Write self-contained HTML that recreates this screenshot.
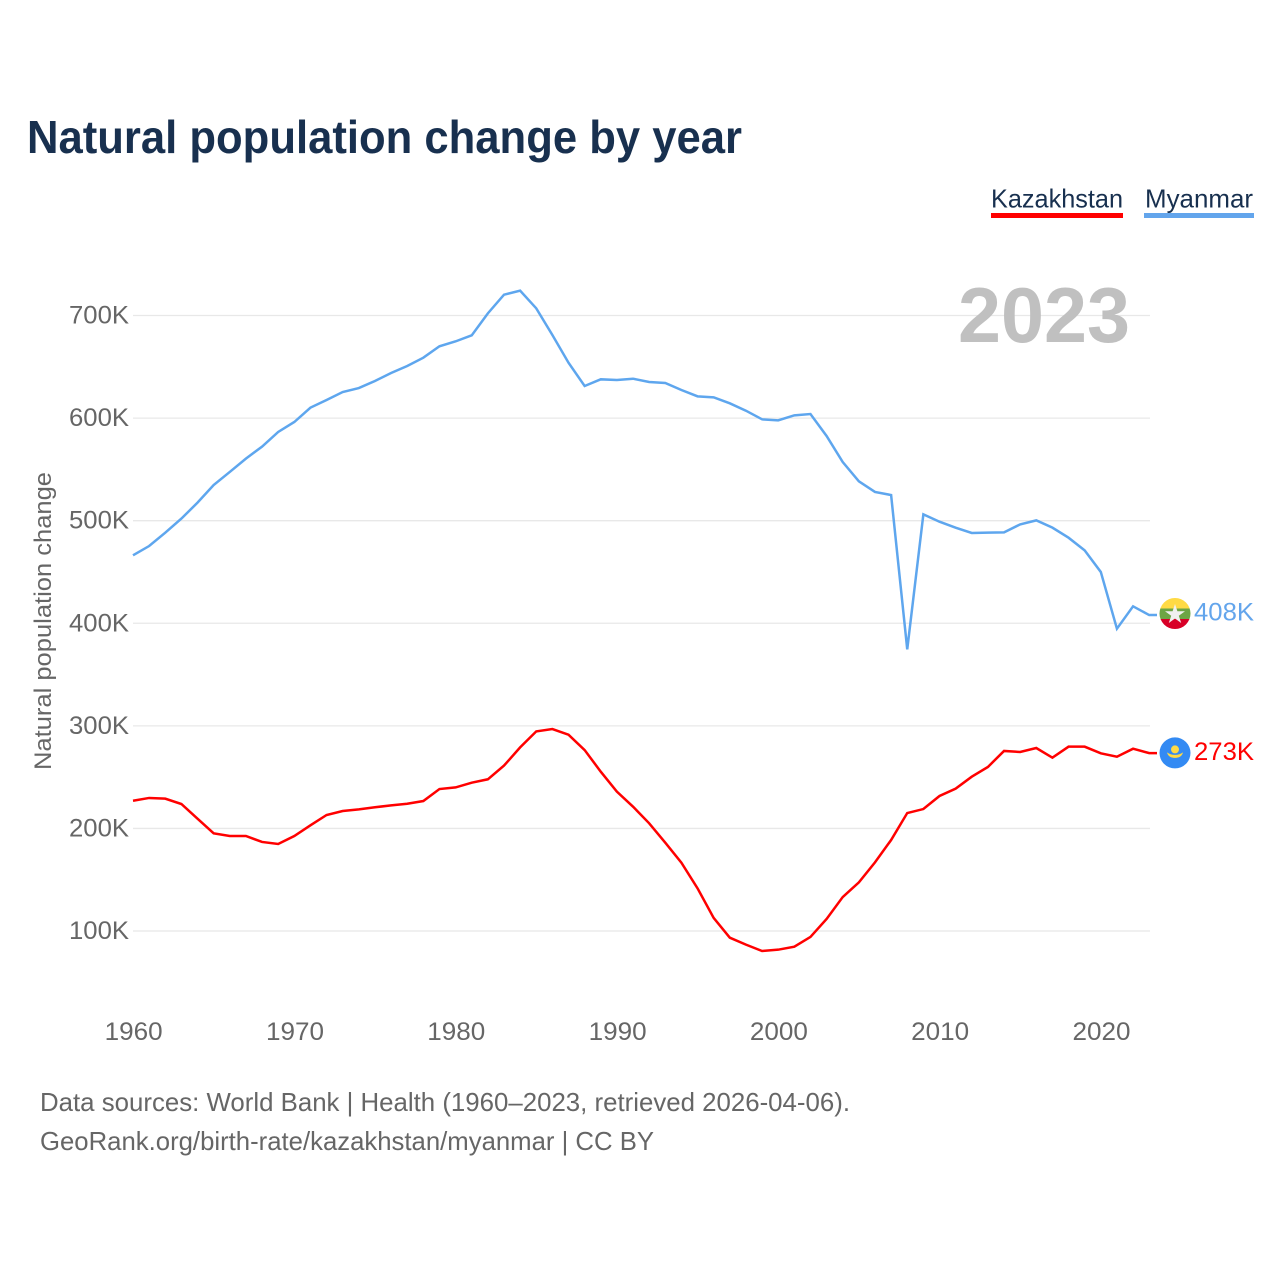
<!DOCTYPE html>
<html lang="en">
<head>
<meta charset="utf-8">
<title>Natural population change by year</title>
<style>
html,body{margin:0;padding:0;background:#fff;}
svg{display:block;font-family:"Liberation Sans",sans-serif;}
</style>
</head>
<body>
<svg id="chart" width="1280" height="1280" viewBox="0 0 1280 1280" xmlns="http://www.w3.org/2000/svg">
  <defs>
    <clipPath id="mm-clip"><circle id="mm-clip-c" cx="1175" cy="613.5" r="15.5"/></clipPath>
  </defs>
  <text x="27" y="153" font-size="46" font-weight="700" fill="#18304f" textLength="715" lengthAdjust="spacingAndGlyphs">Natural population change by year</text>

  <g>
    <text x="991" y="207.5" font-size="26" fill="#18304f" textLength="132" lengthAdjust="spacingAndGlyphs">Kazakhstan</text>
    <rect x="991" y="213" width="132" height="5" fill="#ff0000"/>
  </g>
  <g>
    <text x="1145" y="207.5" font-size="26" fill="#18304f" textLength="108" lengthAdjust="spacingAndGlyphs">Myanmar</text>
    <rect x="1144" y="213" width="110" height="5" fill="#63a5ec"/>
  </g>

  <g id="grid"></g>
  <g id="yticks"></g>
  <g id="xticks"></g>

  <text transform="translate(51,770) rotate(-90)" font-size="24" fill="#666666" textLength="298" lengthAdjust="spacingAndGlyphs">Natural population change</text>
  <text x="958" y="342" font-size="78" font-weight="700" fill="#c0c0c0" textLength="172" lengthAdjust="spacingAndGlyphs">2023</text>

  <g id="series"></g>

  <g id="flag-mm">
    <g clip-path="url(#mm-clip)">
      <rect x="1159" y="597" width="32" height="12" fill="#ffda44"/>
      <rect x="1159" y="608.5" width="32" height="11" fill="#6da544"/>
      <rect x="1159" y="619" width="32" height="12" fill="#d80027"/>
      <polygon points="1175,604 1177.4,611.3 1185,611.3 1178.8,615.7 1181.2,623 1175,618.5 1168.8,623 1171.2,615.7 1165,611.3 1172.6,611.3" fill="#f0f0f0"/>
    </g>
  </g>
  <g id="flag-kz">
    <circle cx="1175" cy="753" r="15.5" fill="#338af3"/>
    <circle cx="1175" cy="749.5" r="4" fill="#ffda44"/>
    <path d="M1167 752.5 C1169 754 1172 755 1175 755 C1178 755 1181 754 1183 752.5 C1182 757 1178 758 1175 758 C1172 758 1168 757 1167 752.5 Z" fill="#ffda44"/>
  </g>
  <text id="label-mm" x="1194" y="621" font-size="25" fill="#63a5ec" textLength="60" lengthAdjust="spacingAndGlyphs"></text>
  <text id="label-kz" x="1194" y="760" font-size="25" fill="#ff0000" textLength="60" lengthAdjust="spacingAndGlyphs"></text>

  <text x="40" y="1111" font-size="26" fill="#666666" textLength="810" lengthAdjust="spacingAndGlyphs">Data sources: World Bank | Health (1960–2023, retrieved 2026-04-06).</text>
  <text x="40" y="1150" font-size="26" fill="#666666" textLength="614" lengthAdjust="spacingAndGlyphs">GeoRank.org/birth-rate/kazakhstan/myanmar | CC BY</text>
</svg>
<script>
const years = [1960,1961,1962,1963,1964,1965,1966,1967,1968,1969,1970,1971,1972,1973,1974,1975,1976,1977,1978,1979,1980,1981,1982,1983,1984,1985,1986,1987,1988,1989,1990,1991,1992,1993,1994,1995,1996,1997,1998,1999,2000,2001,2002,2003,2004,2005,2006,2007,2008,2009,2010,2011,2012,2013,2014,2015,2016,2017,2018,2019,2020,2021,2022,2023];
const myanmar = [466.2,475.3,488.3,502,517.6,534.8,547.5,560.5,572.2,586.5,596.2,610.2,617.6,625.4,629.3,636.2,644,650.8,658.9,670,674.8,680.7,702.1,720.3,724.2,707,681,654,631.3,637.8,637.1,638.4,635.2,634.2,627.4,621.2,620.2,614.4,607.2,598.8,597.8,602.7,604,582.6,557.2,538.4,528,525,374.6,506.2,499,493.2,488,488.3,488.6,496.4,500.3,493.2,483.4,471.1,450,394.7,416.5,408];
const kazakhstan = [227,229.7,229,223.8,209.5,195.2,192.6,192.6,186.8,184.8,192.6,203,213.1,217,218.6,220.6,222.5,224.1,226.7,238.4,240,244.6,247.9,261.2,279,294.6,296.9,291.4,276.4,255.3,235.8,221.2,205,186.1,166.6,141.6,112.7,93.5,86.7,80.5,81.8,84.7,94.2,111.7,133.1,147.4,166.9,188.7,215,218.9,231.6,238.8,250.4,259.9,275.5,274.5,278.4,269,279.7,279.7,273.2,269.9,277.7,273.4];
const yTickValues = [100,200,300,400,500,600,700];
const yTickLabels = ['100K','200K','300K','400K','500K','600K','700K'];
const xTickValues = [1960,1970,1980,1990,2000,2010,2020];
const xTickLabels = ['1960','1970','1980','1990','2000','2010','2020'];

const NS = 'http://www.w3.org/2000/svg';
function xScale(year){ return 133 + (year - 1960) * 16.13; }
function yScale(v){ return 931 - (v - 100) * 1.0258; }

const grid = document.getElementById('grid');
const yticks = document.getElementById('yticks');
const xticks = document.getElementById('xticks');
const seriesGroup = document.getElementById('series');

yTickValues.forEach(function(v, i){
  const line = document.createElementNS(NS, 'line');
  
  
  line.setAttribute('x1', xScale(1960));
  line.setAttribute('x2', 1150);
  line.setAttribute('y1', yScale(v));
  line.setAttribute('y2', yScale(v));
  line.setAttribute('stroke', '#e8e8e8');
  line.setAttribute('stroke-width', '1.3');
  grid.appendChild(line);

  const t = document.createElementNS(NS, 'text');
  
  
  t.setAttribute('x', 69);
  t.setAttribute('y', yScale(v) + 8);
  t.setAttribute('font-size', '25');
  t.setAttribute('fill', '#666666');
  t.setAttribute('textLength', '60');
  t.setAttribute('lengthAdjust', 'spacingAndGlyphs');
  t.textContent = yTickLabels[i];
  yticks.appendChild(t);
});

xTickValues.forEach(function(year, i){
  const t = document.createElementNS(NS, 'text');
  
  
  t.setAttribute('x', xScale(year) + 0.7);
  t.setAttribute('y', 1040);
  t.setAttribute('text-anchor', 'middle');
  t.setAttribute('font-size', '25');
  t.setAttribute('fill', '#666666');
  t.setAttribute('textLength', '58');
  t.setAttribute('lengthAdjust', 'spacingAndGlyphs');
  t.textContent = xTickLabels[i];
  xticks.appendChild(t);
});

function linePoints(values){
  const pts = values.map(function(v, i){ return xScale(years[i]).toFixed(2) + ',' + yScale(v).toFixed(2); });
  pts.push('1157,' + yScale(values[values.length - 1]).toFixed(2));
  return pts.join(' ');
}

const lineMm = document.createElementNS(NS, 'polyline');


lineMm.setAttribute('points', linePoints(myanmar));
lineMm.setAttribute('fill', 'none');
lineMm.setAttribute('stroke', '#5ea6ee');
lineMm.setAttribute('stroke-width', '2.5');
seriesGroup.appendChild(lineMm);

const lineKz = document.createElementNS(NS, 'polyline');


lineKz.setAttribute('points', linePoints(kazakhstan));
lineKz.setAttribute('fill', 'none');
lineKz.setAttribute('stroke', '#ff0000');
lineKz.setAttribute('stroke-width', '2.5');
seriesGroup.appendChild(lineKz);

const lastMm = myanmar[myanmar.length - 1];
const lastKz = kazakhstan[kazakhstan.length - 1];
const labelMm = document.getElementById('label-mm');
labelMm.textContent = Math.round(lastMm) + 'K';
labelMm.setAttribute('y', yScale(lastMm) + 5.5);
const labelKz = document.getElementById('label-kz');
labelKz.textContent = Math.round(lastKz) + 'K';
labelKz.setAttribute('y', yScale(lastKz) + 6.8);
document.getElementById('flag-mm').setAttribute('transform', 'translate(0,' + (yScale(lastMm) - 615.05).toFixed(2) + ')');
document.getElementById('flag-kz').setAttribute('transform', 'translate(0,' + (yScale(lastKz) - 753.2).toFixed(2) + ')');
</script>
</body>
</html>
